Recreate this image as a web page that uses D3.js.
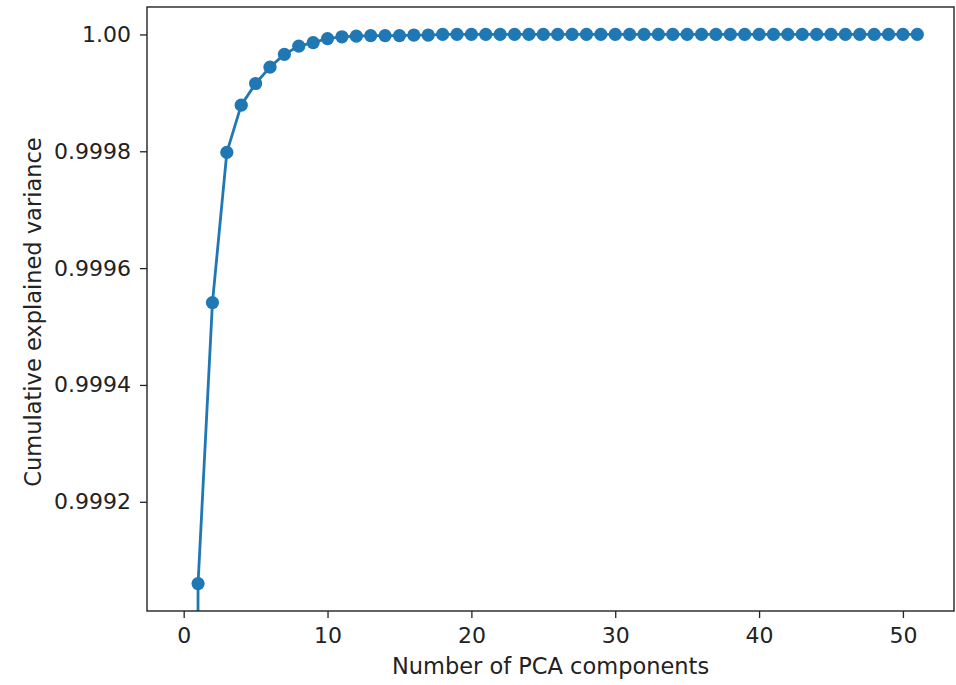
<!DOCTYPE html>
<html>
<head>
<meta charset="utf-8">
<script src="https://cdn.jsdelivr.net/npm/d3@7"></script>
<style>
  html, body { margin: 0; padding: 0; background: #fff; }
  svg { display: block; }
  text { font-family: "DejaVu Sans", sans-serif; fill: #222; }
</style>
</head>
<body>
<svg id="chart" width="956" height="685"></svg>
<script>
// Number of principal components kept
const components = d3.range(0, 52);
// Cumulative explained variance ratio for each component count
const cumulativeVariance = [
  0.9900, 0.999060, 0.999541, 0.999798, 0.999879, 0.999916, 0.999944, 0.999966,
  0.999980, 0.999986, 0.999993, 0.999996, 0.999997, 0.999998, 0.999998, 0.999998,
  0.999999, 0.999999, 1.000000, 1.000000, 1.000000, 1.000000, 1.000000, 1.000000,
  1.000000, 1.000000, 1.000000, 1.000000, 1.000000, 1.000000, 1.000000, 1.000000,
  1.000000, 1.000000, 1.000000, 1.000000, 1.000000, 1.000000, 1.000000, 1.000000,
  1.000000, 1.000000, 1.000000, 1.000000, 1.000000, 1.000000, 1.000000, 1.000000,
  1.000000, 1.000000, 1.000000, 1.000000
];
const xTicks = [0, 10, 20, 30, 40, 50];
const yTicks = [0.9992, 0.9994, 0.9996, 0.9998, 1.0];
const yTickLabels = ["0.9992", "0.9994", "0.9996", "0.9998", "1.00"];
const xLabel = "Number of PCA components";
const yLabel = "Cumulative explained variance";

const data = components.map((c, i) => ({ c, v: cumulativeVariance[i] }));

const svg = d3.select("#chart");
const plot = { left: 147, top: 7, right: 954, bottom: 611 };
const color = "#1f77b4";
const tickFont = 22;
const labelFont = 22.5;

const x = d3.scaleLinear().domain([-2.55, 53.55]).range([plot.left, plot.right]);
const y = d3.scaleLinear().domain([0.999013, 1.000047]).range([plot.bottom, plot.top]);

svg.append("defs").append("clipPath").attr("id", "plot-clip")
  .append("rect")
  .attr("x", plot.left).attr("y", plot.top)
  .attr("width", plot.right - plot.left).attr("height", plot.bottom - plot.top);

const g = svg.append("g").attr("clip-path", "url(#plot-clip)");

g.append("path")
  .datum(data)
  .attr("fill", "none")
  .attr("stroke", color)
  .attr("stroke-width", 2.8)
  .attr("stroke-linejoin", "round")
  .attr("d", d3.line().x(d => x(d.c)).y(d => y(d.v)));

g.selectAll("circle")
  .data(data)
  .join("circle")
  .attr("cx", d => x(d.c))
  .attr("cy", d => y(d.v))
  .attr("r", 6.6)
  .attr("fill", color);

// Axes
const xAxis = d3.axisBottom(x).tickValues(xTicks).tickSize(7).tickPadding(9).tickFormat(d3.format("d"));
const yAxis = d3.axisLeft(y).tickValues(yTicks).tickSize(7).tickPadding(9)
  .tickFormat((d, i) => yTickLabels[i]);

const gx = svg.append("g").attr("transform", `translate(0,${plot.bottom})`).call(xAxis);
const gy = svg.append("g").attr("transform", `translate(${plot.left},0)`).call(yAxis);

[gx, gy].forEach(a => {
  a.select(".domain").remove();
  a.selectAll(".tick line").attr("stroke", "#222").attr("stroke-width", 1.3);
  a.selectAll(".tick text").attr("font-size", tickFont).attr("font-family", "DejaVu Sans").attr("fill", "#222");
});

// Frame
svg.append("rect")
  .attr("x", plot.left).attr("y", plot.top)
  .attr("width", plot.right - plot.left).attr("height", plot.bottom - plot.top)
  .attr("fill", "none").attr("stroke", "#222").attr("stroke-width", 1.4);

svg.append("text")
  .attr("x", (plot.left + plot.right) / 2)
  .attr("y", 674)
  .attr("text-anchor", "middle")
  .attr("font-size", labelFont)
  .text(xLabel);

svg.append("text")
  .attr("transform", `translate(41,${(plot.top + plot.bottom) / 2 + 3}) rotate(-90)`)
  .attr("text-anchor", "middle")
  .attr("font-size", labelFont)
  .text(yLabel);
</script>
</body>
</html>
